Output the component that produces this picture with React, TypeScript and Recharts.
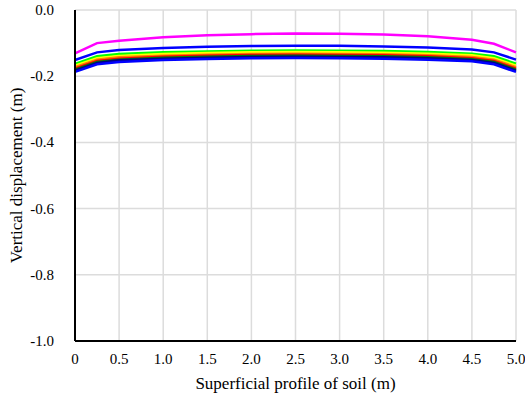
import React from "react";
import {
  LineChart,
  Line,
  XAxis,
  YAxis,
  CartesianGrid,
  Label,
} from "recharts";

const xs = [0, 0.25, 0.5, 1.0, 1.5, 2.0, 2.5, 3.0, 3.5, 4.0, 4.5, 4.75, 5.0];

const magenta = [-0.131, -0.1, -0.093, -0.082, -0.076, -0.073, -0.071, -0.072, -0.074, -0.079, -0.09, -0.102, -0.128];
const blueTop = [-0.151, -0.128, -0.121, -0.115, -0.111, -0.109, -0.108, -0.108, -0.11, -0.113, -0.119, -0.128, -0.15];
const lime = [-0.163, -0.14, -0.133, -0.128, -0.125, -0.123, -0.122, -0.123, -0.124, -0.127, -0.132, -0.14, -0.162];
const yellow = [-0.168, -0.146, -0.139, -0.133, -0.13, -0.128, -0.127, -0.128, -0.129, -0.132, -0.137, -0.146, -0.168];
const orange = [-0.173, -0.15, -0.143, -0.138, -0.135, -0.133, -0.132, -0.133, -0.134, -0.137, -0.142, -0.15, -0.173];
const red = [-0.177, -0.154, -0.147, -0.141, -0.138, -0.136, -0.135, -0.136, -0.137, -0.14, -0.146, -0.154, -0.177];
const darkGreen = [-0.18, -0.157, -0.15, -0.144, -0.141, -0.139, -0.138, -0.139, -0.14, -0.143, -0.149, -0.157, -0.18];
const black = [-0.183, -0.16, -0.152, -0.147, -0.144, -0.142, -0.141, -0.142, -0.143, -0.146, -0.151, -0.16, -0.183];
const blueBottom = [-0.187, -0.164, -0.157, -0.151, -0.148, -0.146, -0.145, -0.146, -0.147, -0.15, -0.155, -0.164, -0.187];

const xTicks = [0, 0.5, 1, 1.5, 2, 2.5, 3, 3.5, 4, 4.5, 5];
const yTicks = [0, -0.2, -0.4, -0.6, -0.8, -1.0];

const series = [
  { key: "magenta", values: magenta, color: "#ff00ff" },
  { key: "blueTop", values: blueTop, color: "#0000ff" },
  { key: "lime", values: lime, color: "#00ff00" },
  { key: "yellow", values: yellow, color: "#ffff00" },
  { key: "orange", values: orange, color: "#ff8000" },
  { key: "red", values: red, color: "#ff0000" },
  { key: "darkGreen", values: darkGreen, color: "#008000" },
  { key: "black", values: black, color: "#000080" },
  { key: "blueBottom", values: blueBottom, color: "#0000ff" },
];

const data = xs.map((x, i) => {
  const row: Record<string, number> = { x };
  series.forEach((s) => {
    row[s.key] = s.values[i];
  });
  return row;
});

const font = "Liberation Serif, DejaVu Serif, serif";

function XTick(props: any) {
  const { x, y, payload } = props;
  const v = payload.value as number;
  return (
    <text x={x} y={y + 15} textAnchor="middle" fontFamily={font} fontSize={15} fill="#000">
      {v === 0 ? "0" : v.toFixed(1)}
    </text>
  );
}

function YTick(props: any) {
  const { x, y, payload } = props;
  const v = payload.value as number;
  return (
    <text x={x - 2} y={y + 5} textAnchor="end" fontFamily={font} fontSize={15} fill="#000">
      {v.toFixed(1)}
    </text>
  );
}

export default function App() {
  return (
    <div style={{ position: "absolute", left: 0, top: 0, fontFamily: font }}>
      <LineChart
        width={525}
        height={398}
        data={data}
        margin={{ top: 10, right: 9, bottom: 27, left: 0 }}
        style={{ fontFamily: font }}
      >
        <CartesianGrid stroke="#dcdcdc" strokeWidth={1.5} />
        <XAxis
          dataKey="x"
          type="number"
          domain={[0, 5]}
          ticks={xTicks}
          height={30}
          tickLine={false}
          axisLine={{ stroke: "#000", strokeWidth: 2 }}
          tick={<XTick />}
          tickMargin={2}
          interval={0}
        >
          <Label
            value="Superficial profile of soil (m)"
            position="bottom"
            offset={6}
            fontFamily={font}
            fontSize={17}
            fill="#000"
          />
        </XAxis>
        <YAxis
          type="number"
          domain={[-1, 0]}
          ticks={yTicks}
          width={75}
          tickLine={false}
          axisLine={{ stroke: "#000", strokeWidth: 2 }}
          tick={<YTick />}
          tickMargin={13}
          interval={0}
        >
          <Label
            value="Vertical displacement (m)"
            angle={-90}
            position="insideLeft"
            offset={16}
            fontFamily={font}
            fontSize={17}
            fill="#000"
            style={{ textAnchor: "middle" }}
          />
        </YAxis>
        {series.map((s) => (
          <Line
            key={s.key}
            dataKey={s.key}
            stroke={s.color}
            strokeWidth={2.5}
            dot={false}
            isAnimationActive={false}
          />
        ))}
      </LineChart>
    </div>
  );
}
